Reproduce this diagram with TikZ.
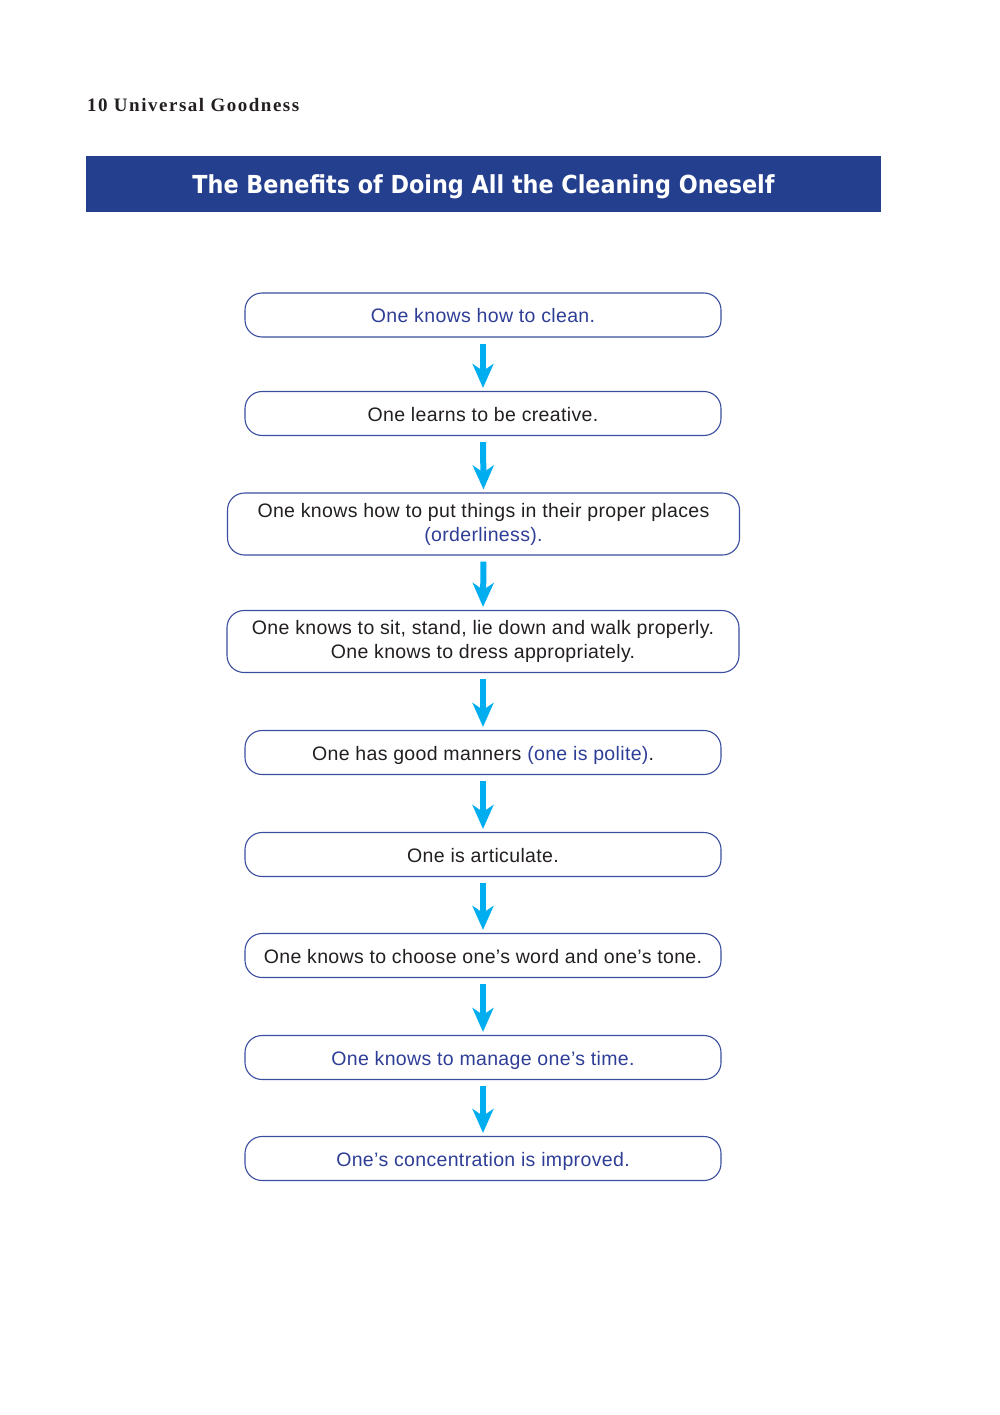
\documentclass[tikz,border=0pt]{standalone}
\usepackage{fontspec}
\setmainfont{Liberation Sans}
\newfontfamily\boxfont{Liberation Sans}[LetterSpace=1.8]
\newfontfamily\titlefont{DejaVu Sans Condensed}
\newfontfamily\headfont{Liberation Serif}[LetterSpace=8]
\usetikzlibrary{arrows.meta}
\definecolor{hdrblue}{HTML}{253F8F}
\definecolor{txtblue}{HTML}{2E3E96}
\definecolor{txtdark}{HTML}{231F20}
\definecolor{boxline}{HTML}{3B4E9E}
\definecolor{arrcyan}{HTML}{00AEEF}
\tikzset{
  flowbox/.style={draw=boxline, line width=1.1pt, rounded corners=17pt, inner sep=0pt, align=center,
    font=\boxfont\fontsize{19.5}{24}\selectfont, text=txtdark},
  narrowbox/.style={flowbox, minimum width=476pt, minimum height=44pt, text height=15pt, text depth=0pt},
  widebox/.style={flowbox, minimum width=512pt, minimum height=62pt},
  flowarrow/.style={draw=arrcyan, line width=6pt, -{Stealth[length=24pt, width=21pt, inset=7pt]}, shorten <=6pt, shorten >=3pt}
}
\begin{document}
\begin{tikzpicture}[x=1pt,y=-1pt]
\useasboundingbox (0,0) rectangle (1000,1415);
\node[anchor=base west, font=\headfont\bfseries\fontsize{19}{22}\selectfont, text=txtdark, inner sep=0pt] (hdr) at (87,112) {10 Universal Goodness};
\node[fill=hdrblue, minimum width=795pt, minimum height=56pt, inner sep=0pt] (title) at (483.5,184) {};
\node[anchor=base, inner sep=0pt, text=white, font=\titlefont\bfseries\fontsize{24.8}{30}\selectfont] (titletext) at (483.5,194) {The Benefits of Doing All the Cleaning Oneself};
\node[narrowbox, text=txtblue] (b1) at (483,315) {One knows how to clean.};
\node[narrowbox] (b2) at (483,413.5) {One learns to be creative.};
\node[widebox] (b3) at (483.5,524) {One knows how to put things in their proper places\\\textcolor{txtblue}{(orderliness).}};
\node[widebox] (b4) at (483,641.5) {One knows to sit, stand, lie down and walk properly.\\One knows to dress appropriately.};
\node[narrowbox] (b5) at (483,752.5) {One has good manners \textcolor{txtblue}{(one is polite)}.};
\node[narrowbox] (b6) at (483,854.5) {One is articulate.};
\node[narrowbox] (b7) at (483,955.5) {One knows to choose one’s word and one’s tone.};
\node[narrowbox, text=txtblue] (b8) at (483,1057.5) {One knows to manage one’s time.};
\node[narrowbox, text=txtblue] (b9) at (483,1158.5) {One’s concentration is improved.};
\foreach \a/\b in {b1/b2,b2/b3,b3/b4,b4/b5,b5/b6,b6/b7,b7/b8,b8/b9}
  \draw[flowarrow] (\a.south) -- (\b.north);
\end{tikzpicture}
\end{document}
